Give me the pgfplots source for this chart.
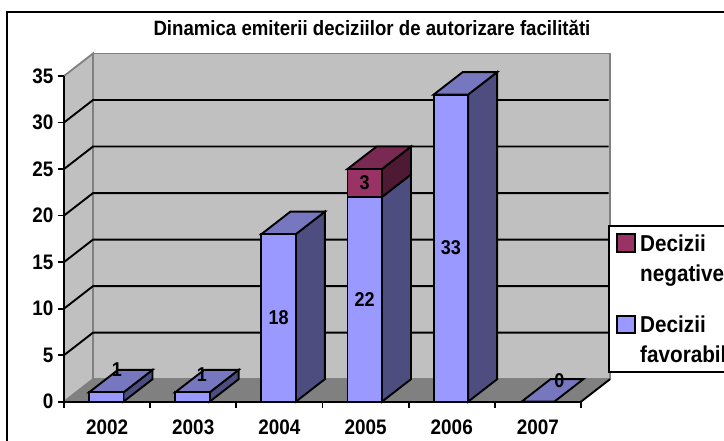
\documentclass[border=0pt]{standalone}
\usepackage{fontspec}
\setmainfont[FakeStretch=0.9]{Liberation Sans}
\usepackage{pgfplots}
\pgfplotsset{compat=1.18}
\definecolor{blueF}{HTML}{9999FF}
\definecolor{blueT}{HTML}{7777BF}
\definecolor{blueS}{HTML}{4D4D80}
\definecolor{redF}{HTML}{993366}
\definecolor{redT}{HTML}{7A2952}
\definecolor{redS}{HTML}{4D1933}
\definecolor{wall}{HTML}{C0C0C0}
\definecolor{floorc}{HTML}{808080}
\begin{document}
\begin{tikzpicture}[x=1pt,y=1pt]
\useasboundingbox (0,0) rectangle (724,441);
\clip (0,0) rectangle (724,441);
\fill[white] (0,0) rectangle (724,441);
\draw[black,line width=2.4pt] (7,-10) -- (7,429) -- (740,429);
\begin{axis}[
  at={(64pt,39.3pt)}, anchor=origin,
  scale only axis, width=517pt, height=325.7pt,
  xmin=0, xmax=6, ymin=0, ymax=35,
  clip=false, axis on top,
  axis lines=left,
  axis line style={-, black, line width=2pt},
  major tick style={black, line width=1.8pt},
  tick align=outside,
  major tick length=6pt,
  xtick={0,1,2,3,4,5,6},
  xticklabels={2002,2003,2004,2005,2006,2007},
  x tick label as interval,
  ytick={0,5,10,15,20,25,30,35},
  /pgf/number format/assume math mode=true,
  tick label style={font=\fontsize{21}{24}\selectfont\bfseries, text=black},
  xticklabel style={yshift=-9pt},
  yticklabel style={xshift=-1pt},
  title={Dinamica emiterii deciziilor de autorizare facilităti},
  title style={at={(axis description cs:0.5957,1.129)}, anchor=center,
     font=\fontsize{20.7}{24}\selectfont\bfseries},
]
% walls and floor
\addplot[forget plot, fill=wall, draw=floorc, line width=1.8pt] coordinates {(0.337,2.42)(6.337,2.42)(6.337,37.42)(0.337,37.42)} -- cycle;
\addplot[forget plot, fill=wall, draw=floorc, line width=1.8pt] coordinates {(0,0)(0.337,2.42)(0.337,37.42)(0,35)} -- cycle;
\addplot[forget plot, fill=floorc, draw=floorc, line width=1pt] coordinates {(0,0)(6,0)(6.337,2.42)(0.337,2.42)} -- cycle;
% gridlines
\addplot[forget plot, black, line width=1.9pt] coordinates {(0,5)(0.337,7.42)(6.32,7.42)};
\addplot[forget plot, black, line width=1.9pt] coordinates {(0,10)(0.337,12.42)(6.32,12.42)};
\addplot[forget plot, black, line width=1.9pt] coordinates {(0,15)(0.337,17.42)(6.32,17.42)};
\addplot[forget plot, black, line width=1.9pt] coordinates {(0,20)(0.337,22.42)(6.32,22.42)};
\addplot[forget plot, black, line width=1.9pt] coordinates {(0,25)(0.337,27.42)(6.32,27.42)};
\addplot[forget plot, black, line width=1.9pt] coordinates {(0,30)(0.337,32.42)(6.32,32.42)};
% right floor edge
\addplot[forget plot, black, line width=1.9pt] coordinates {(6,0)(6.337,2.42)};

% 2002 = 1
\addplot[forget plot, fill=blueS, draw=black, line width=1.9pt] coordinates {(0.69,0)(1.027,2.42)(1.027,3.42)(0.69,1)} -- cycle;
\addplot[forget plot, fill=blueT, draw=black, line width=1.9pt] coordinates {(0.29,1)(0.69,1)(1.027,3.42)(0.627,3.42)} -- cycle;
\addplot[forget plot, fill=blueF, draw=black, line width=1.9pt] coordinates {(0.29,0)(0.69,0)(0.69,1)(0.29,1)} -- cycle;
% 2003 = 1
\addplot[forget plot, fill=blueS, draw=black, line width=1.9pt] coordinates {(1.69,0)(2.027,2.42)(2.027,3.42)(1.69,1)} -- cycle;
\addplot[forget plot, fill=blueT, draw=black, line width=1.9pt] coordinates {(1.29,1)(1.69,1)(2.027,3.42)(1.627,3.42)} -- cycle;
\addplot[forget plot, fill=blueF, draw=black, line width=1.9pt] coordinates {(1.29,0)(1.69,0)(1.69,1)(1.29,1)} -- cycle;
% 2004 = 18
\addplot[forget plot, fill=blueS, draw=black, line width=1.9pt] coordinates {(2.69,0)(3.027,2.42)(3.027,20.42)(2.69,18)} -- cycle;
\addplot[forget plot, fill=blueT, draw=black, line width=1.9pt] coordinates {(2.29,18)(2.69,18)(3.027,20.42)(2.627,20.42)} -- cycle;
\addplot[forget plot, fill=blueF, draw=black, line width=1.9pt] coordinates {(2.29,0)(2.69,0)(2.69,18)(2.29,18)} -- cycle;
% 2005 = 22 + 3
\addplot[forget plot, fill=blueS, draw=black, line width=1.9pt] coordinates {(3.69,0)(4.027,2.42)(4.027,24.42)(3.69,22)} -- cycle;
\addplot[forget plot, fill=blueF, draw=black, line width=1.9pt] coordinates {(3.29,0)(3.69,0)(3.69,22)(3.29,22)} -- cycle;
\addplot[forget plot, fill=redS, draw=black, line width=1.9pt] coordinates {(3.69,22)(4.027,24.42)(4.027,27.42)(3.69,25)} -- cycle;
\addplot[forget plot, fill=redT, draw=black, line width=1.9pt] coordinates {(3.29,25)(3.69,25)(4.027,27.42)(3.627,27.42)} -- cycle;
\addplot[forget plot, fill=redF, draw=black, line width=1.9pt] coordinates {(3.29,22)(3.69,22)(3.69,25)(3.29,25)} -- cycle;
% 2006 = 33
\addplot[forget plot, fill=blueS, draw=black, line width=1.9pt] coordinates {(4.69,0)(5.027,2.42)(5.027,35.42)(4.69,33)} -- cycle;
\addplot[forget plot, fill=blueT, draw=black, line width=1.9pt] coordinates {(4.29,33)(4.69,33)(5.027,35.42)(4.627,35.42)} -- cycle;
\addplot[forget plot, fill=blueF, draw=black, line width=1.9pt] coordinates {(4.29,0)(4.69,0)(4.69,33)(4.29,33)} -- cycle;
% 2007 = 0
\addplot[forget plot, fill=blueT, draw=black, line width=1.9pt] coordinates {(5.31,0)(5.69,0)(6.027,2.42)(5.647,2.42)} -- cycle;

% value labels
\begin{scope}[every node/.style={font=\fontsize{20}{22}\selectfont\bfseries, text=black}]
\node at (axis cs:0.615,3.4) {1};
\node at (axis cs:1.60,2.9) {1};
\node at (axis cs:2.49,9) {18};
\node at (axis cs:3.49,11) {22};
\node at (axis cs:3.49,23.5) {3};
\node at (axis cs:4.49,16.6) {33};
\node at (axis cs:5.75,2.3) {0};
\end{scope}
\end{axis}
% legend (runs past the right edge, as in the reference)
\draw[black,line width=1.8pt,fill=white] (609.3,69.3) rectangle (740,215.3);
\draw[black,line width=1.8pt,fill=redF] (617,189) rectangle (634.7,207);
\draw[black,line width=1.8pt,fill=blueF] (617,108) rectangle (634.7,125.3);
\begin{scope}[every node/.style={anchor=base west, inner sep=0pt, font=\fontsize{23}{26}\selectfont\bfseries, text=black}]
\node at (640,189) {Decizii};
\node at (640,159) {negative};
\node at (640,108) {Decizii};
\node at (640,78) {favorabile};
\end{scope}
\end{tikzpicture}
\end{document}
